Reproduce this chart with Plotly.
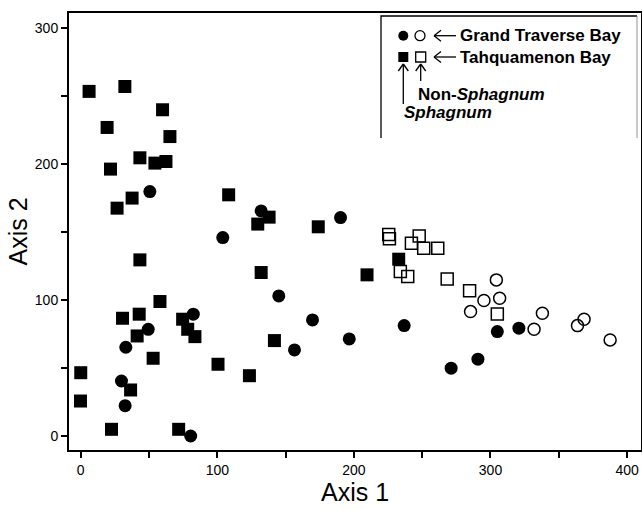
import plotly.graph_objects as go

# ---------------- data ----------------
tb_sph_x = [6.1, 32.3, 59.9, 19.3, 65.3, 43.3, 54.3, 62.4, 21.8, 37.6, 26.6, 43.3, 58.0, 30.6, 42.8,
            41.3, 53.0, 74.6, 78.3, 83.6, 0.0, 36.5, -0.2, 22.5, 71.7, 100.5, 108.3, 137.9, 129.6,
            173.9, 232.8, 209.6, 132.1, 141.8, 123.5]
tb_sph_y = [253.2, 256.8, 239.7, 226.7, 220.0, 204.4, 200.5, 201.7, 196.1, 174.8, 167.4, 129.4, 98.8,
            86.5, 89.5, 73.5, 57.1, 85.8, 78.4, 73.0, 46.5, 33.8, 25.7, 4.9, 4.9, 52.7, 177.2, 160.8,
            155.7, 153.7, 129.9, 118.4, 120.1, 70.1, 44.3]

gtb_sph_x = [50.6, 49.4, 33.0, 82.4, 29.8, 32.5, 80.5, 132.1, 190.2, 104.0, 145.0, 169.7, 196.6,
             236.8, 156.5, 305.0, 320.8, 290.8, 271.2]
gtb_sph_y = [179.6, 78.4, 65.2, 89.5, 40.4, 22.3, 0.0, 165.4, 160.5, 145.8, 102.9, 85.3, 71.3,
             81.1, 63.2, 76.7, 79.2, 56.4, 49.8]

gtb_non_x = [304.3, 306.7, 295.2, 285.4, 338.0, 331.9, 368.5, 363.7, 387.6]
gtb_non_y = [114.7, 101.2, 99.5, 91.4, 90.2, 78.4, 85.8, 81.1, 70.6]

tb_non_x = [225.5, 226.0, 247.8, 242.1, 251.1, 261.4, 268.3, 284.7, 305.0, 234.0, 239.4]
tb_non_y = [148.0, 145.0, 147.0, 141.7, 138.0, 138.0, 115.4, 106.8, 89.7, 120.8, 117.1]

x_ticks = [0, 100, 200, 300, 400]
y_ticks = [0, 100, 200, 300]

# ---------------- layout geometry ----------------
W, H = 642, 510
L, R, T, B = 69, 641, 13, 450
FONT = "Liberation Sans, Arial, sans-serif"


def px(x):
    return (x - L) / (R - L)


def py(y):
    return (B - y) / (B - T)


fig = go.Figure()

fig.add_trace(go.Scatter(x=tb_sph_x, y=tb_sph_y, mode="markers", name="TB Sphagnum",
                         marker=dict(symbol="square", size=13, color="black", line=dict(width=0))))
fig.add_trace(go.Scatter(x=gtb_sph_x, y=gtb_sph_y, mode="markers", name="GTB Sphagnum",
                         marker=dict(symbol="circle", size=13, color="black", line=dict(width=0))))
fig.add_trace(go.Scatter(x=tb_non_x, y=tb_non_y, mode="markers", name="TB non-Sphagnum",
                         marker=dict(symbol="square-open", size=12, color="black",
                                     line=dict(width=1.5, color="black"))))
fig.add_trace(go.Scatter(x=gtb_non_x, y=gtb_non_y, mode="markers", name="GTB non-Sphagnum",
                         marker=dict(symbol="circle-open", size=12, color="black",
                                     line=dict(width=1.5, color="black"))))

shapes = []
annotations = []

# legend box (left and top lines, faint inner right line)
shapes.append(dict(type="path", xref="paper", yref="paper",
                   path=f"M {px(381)},{py(138)} L {px(381)},{py(16)} L {px(637)},{py(16)}",
                   line=dict(color="black", width=1.3)))
shapes.append(dict(type="line", xref="paper", yref="paper",
                   x0=px(637), x1=px(637), y0=py(16), y1=py(138),
                   line=dict(color="#777777", width=0.8)))

# legend markers
r = 5.0
for cx, cy, kind, filled in [(403.3, 35.7, "circle", True), (420.0, 35.7, "circle", False),
                             (403.3, 57.0, "rect", True), (420.7, 57.0, "rect", False)]:
    shapes.append(dict(type=kind, xref="paper", yref="paper",
                       x0=px(cx - r), x1=px(cx + r), y0=py(cy + r), y1=py(cy - r),
                       fillcolor="black" if filled else "rgba(0,0,0,0)",
                       line=dict(color="black", width=0 if filled else 1.3)))


def line(x0, y0, x1, y1, w=1.3):
    shapes.append(dict(type="line", xref="paper", yref="paper",
                       x0=px(x0), y0=py(y0), x1=px(x1), y1=py(y1),
                       line=dict(color="black", width=w)))


# left arrows
for yy in (35.7, 57.0):
    line(434, yy, 456, yy)
    line(434, yy, 441, yy - 5.5)
    line(434, yy, 441, yy + 5.5)

# up arrows
for xx, ybot in ((403.3, 104), (420.7, 81)):
    line(xx, 64, xx, ybot)
    line(xx, 64, xx - 5, 71)
    line(xx, 64, xx + 5, 71)

legend_texts = [
    ("<b>Grand Traverse Bay</b>", 458.3, 35.7),
    ("<b>Tahquamenon Bay</b>", 458.3, 57.3),
    ("<b>Non-<i>Sphagnum</i></b>", 416.0, 95.0),
    ("<b><i>Sphagnum</i></b>", 402.0, 112.0),
]
for txt, x, y in legend_texts:
    annotations.append(dict(text=txt, xref="paper", yref="paper", x=px(x), y=py(y),
                            xanchor="left", yanchor="middle", showarrow=False,
                            font=dict(family=FONT, size=17, color="black")))

axis_common = dict(showgrid=False, zeroline=False, showline=True, linecolor="black", linewidth=2,
                   mirror=True, ticks="outside", ticklen=6, tickwidth=1.5, tickcolor="black",
                   automargin=False,
                   tickfont=dict(family=FONT, size=14, color="black"),
                   minor=dict(dtick=50, ticks="outside", ticklen=6, tickwidth=1.5, tickcolor="black"))

fig.update_layout(
    width=W, height=H,
    margin=dict(l=L, r=W - R, t=T, b=H - B),
    paper_bgcolor="white", plot_bgcolor="white",
    showlegend=False,
    shapes=shapes, annotations=annotations,
    xaxis=dict(range=[-8.6, 410.2], tickvals=x_ticks, ticktext=[str(v) for v in x_ticks],
               title=dict(text="Axis 1", font=dict(family=FONT, size=25, color="black"), standoff=2),
               **axis_common),
    yaxis=dict(range=[-10.3, 310.8], tickvals=y_ticks, ticktext=[str(v) for v in y_ticks],
               title=dict(text="Axis 2", font=dict(family=FONT, size=25, color="black"), standoff=0),
               **axis_common),
)

fig.write_html("out.html", config={"displayModeBar": False},
               post_script="document.body.style.margin='0';document.body.style.padding='0';")
